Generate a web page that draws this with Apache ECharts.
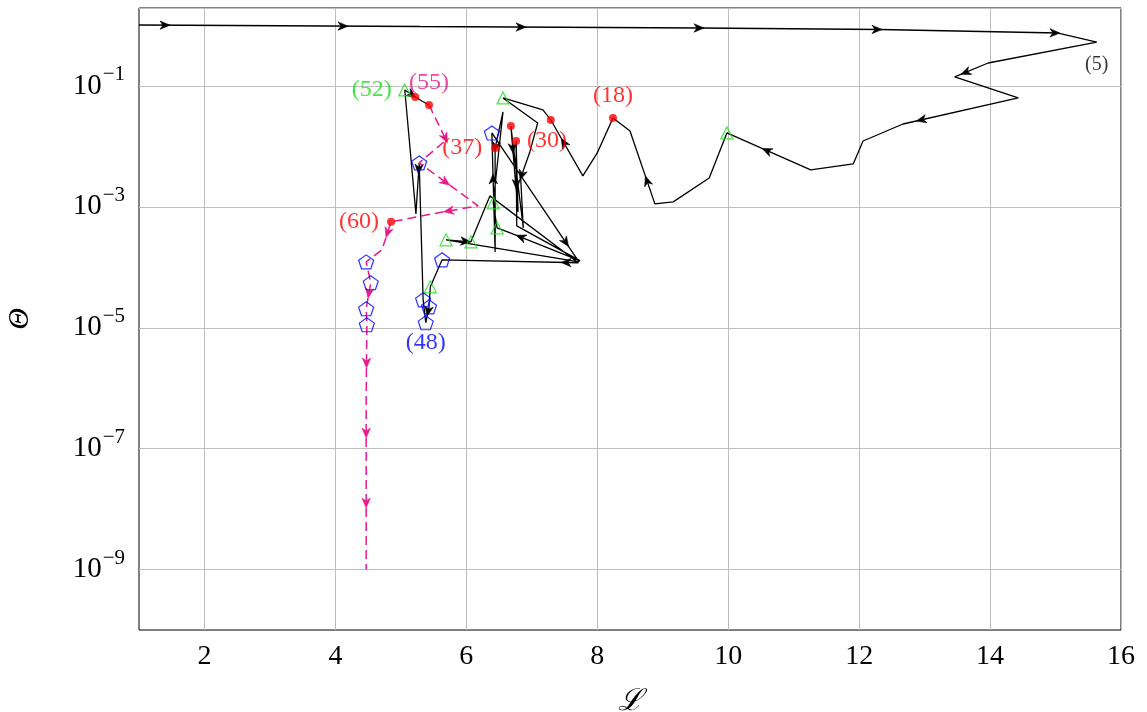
<!DOCTYPE html>
<html>
<head>
<meta charset="utf-8">
<script src="https://cdn.jsdelivr.net/npm/echarts@6/dist/echarts.min.js"></script>
<style>
  html, body { margin: 0; padding: 0; background: #fff; }
  #chart { width: 1147px; height: 712px; }
</style>
</head>
<body>
<div id="chart"></div>
<script>
// Iterates 0..55 of the solver path (solid black)
const L_main = [1.00, 5.29, 9.57, 12.32, 15.04, 15.63, 13.97, 13.46, 14.43, 12.67,
  12.06, 11.91, 11.26, 9.98, 9.71, 9.16, 8.88, 8.50, 8.24, 8.00,
  7.78, 7.29, 7.17, 6.56, 7.09, 6.97, 6.83, 6.87, 6.68, 6.79,
  6.76, 6.77, 7.74, 6.67, 6.47, 6.41, 6.56, 6.44, 6.44, 6.39,
  7.72, 5.69, 6.07, 6.36, 7.71, 5.63, 5.45, 5.43, 5.38, 5.34,
  5.28, 5.23, 5.06, 5.22, 5.32, 5.43];
const Theta_main = [1.02, 0.963, 0.910, 0.859, 0.752, 0.533, 0.240, 0.141, 0.0634, 0.0235,
  0.0123, 5.14e-3, 4.09e-3, 0.0167, 3.01e-3, 1.21e-3, 1.12e-3, 0.0180, 0.0296, 7.82e-3,
  3.25e-3, 0.0274, 0.0401, 0.0634, 0.0244, 8.11e-3, 3.01e-3, 4.50e-4, 0.0218, 8.26e-4,
  0.0123, 4.85e-4, 1.28e-4, 3.72e-4, 4.50e-4, 1.16e-3, 0.0372, 9.44e-3, 1.80e-4, 0.0167,
  1.23e-4, 2.85e-4, 2.64e-4, 1.52e-3, 1.19e-4, 1.33e-4, 4.76e-5, 2.22e-5, 1.21e-5, 2.90e-5,
  5.33e-3, 7.66e-4, 0.0859, 0.0658, 0.0565, 0.0485];

// Iterates 55..68 (final phase, dashed)
const TAIL_START = 55;
const L_tail = [5.43, 5.69, 5.28, 6.18, 5.48, 4.85, 4.71, 4.47, 4.54, 4.47, 4.48, 4.47, 4.47, 4.47];
const Theta_tail = [0.0485, 0.0128, 5.33e-3, 1.04e-3, 7.66e-4, 5.65e-4, 1.94e-4, 1.23e-4, 5.55e-5,
  2.06e-5, 1.12e-5, 6.46e-7, 3.08e-8, 1.0e-9];

// Iterates flagged by step type
const dotIters = [18, 21, 28, 30, 37, 53, 55, 60];
const triangleIters = [13, 23, 34, 35, 41, 42, 46, 52];
const pentagonIters = [39, 45, 47, 48, 49, 50, 62, 63, 64, 65];

// Annotated iterates
const labelIters = [5, 18, 30, 37, 48, 52, 55, 60];

// Axis ticks
const xTicks = [2, 4, 6, 8, 10, 12, 14, 16];
const yTickExps = [-9, -7, -5, -3, -1];

// ---------- styling ----------
const SERIF = "'Liberation Serif', 'DejaVu Serif', serif";
const RED = '#ff0000', GREEN = '#16e016', BLUE = '#0000ff', MAGENTA = '#e8198b';
const labelStyle = {
  5:  { pos: 'bottom', dist: 13, color: '#000', size: 20 },
  18: { pos: 'top',    dist: 10, color: RED,   size: 24 },
  30: { pos: 'right',  dist: 11, color: RED,   size: 24 },
  37: { pos: 'left',   dist: 13, color: RED,   size: 24 },
  48: { pos: 'bottom', dist: 8,  color: BLUE,  size: 24 },
  52: { pos: 'left',   dist: 13, color: GREEN, size: 24 },
  55: { pos: 'top',    dist: 10, color: MAGENTA, size: 24 },
  60: { pos: 'left',   dist: 12, color: RED,   size: 24 }
};

const lg = v => Math.log10(v);
function pointAt(n) {
  if (n >= TAIL_START) return [L_tail[n - TAIL_START], lg(Theta_tail[n - TAIL_START])];
  return [L_main[n], lg(Theta_main[n])];
}
const mainData = L_main.map((l, i) => [l, lg(Theta_main[i])]);
const tailData = L_tail.map((l, i) => [l, lg(Theta_tail[i])]);

// Arrowheads placed at regular arc-length spacing along a path (pixel space)
const HEAD = [[5, 0], [-5, -4.2], [-2, 0], [-5, 4.2]];
function arrowSeries(data, color, offset, step) {
  return {
    type: 'custom',
    coordinateSystem: 'cartesian2d',
    silent: true,
    z: 4,
    data: [data[0]],
    renderItem(params, api) {
      const pts = data.map(d => api.coord(d));
      const seg = [];
      let total = 0;
      for (let i = 1; i < pts.length; i++) {
        const d = Math.hypot(pts[i][0] - pts[i - 1][0], pts[i][1] - pts[i - 1][1]);
        seg.push(d);
        total += d;
      }
      const children = [];
      let k = 0, acc = 0;
      for (let s = offset; s < total; s += step) {
        while (k < seg.length - 1 && acc + seg[k] < s) { acc += seg[k]; k++; }
        if (seg[k] === 0) continue;
        const t = (s - acc) / seg[k];
        const a = pts[k], b = pts[k + 1];
        const x = a[0] + (b[0] - a[0]) * t, y = a[1] + (b[1] - a[1]) * t;
        const ang = Math.atan2(b[1] - a[1], b[0] - a[0]);
        const c = Math.cos(ang), sn = Math.sin(ang);
        children.push({
          type: 'polygon',
          shape: { points: HEAD.map(p => [x + p[0] * c - p[1] * sn, y + p[0] * sn + p[1] * c]) },
          style: { fill: color, stroke: color, lineWidth: 0.6 }
        });
      }
      return { type: 'group', children };
    }
  };
}

const PENTAGON = 'path://M0,-1L0.951,-0.309L0.588,0.809L-0.588,0.809L-0.951,-0.309Z';

function markerSeries(iters, symbol, size, fill, stroke) {
  return {
    type: 'scatter',
    silent: true,
    z: 5,
    symbol,
    symbolSize: size,
    itemStyle: { color: fill, borderColor: stroke, borderWidth: fill === 'transparent' ? 1.2 : 0 },
    data: iters.map(pointAt)
  };
}

const labelSeries = {
  type: 'scatter',
  silent: true,
  z: 6,
  symbolSize: 0,
  data: labelIters.map(n => {
    const st = labelStyle[n];
    return {
      value: pointAt(n),
      label: {
        show: true,
        position: st.pos,
        distance: st.dist,
        formatter: '(' + n + ')',
        color: st.color,
        fontFamily: SERIF,
        fontSize: st.size
      }
    };
  })
};

const chart = echarts.init(document.getElementById('chart'), null, { renderer: 'canvas' });
chart.setOption({
  animation: false,
  backgroundColor: '#fff',
  grid: {
    left: 139, top: 8, right: 26, bottom: 82,
    containLabel: false,
    outerBoundsMode: 'none',
    show: true, borderColor: '#000', borderWidth: 1, backgroundColor: 'transparent'
  },
  xAxis: {
    type: 'value',
    min: 1, max: 16, interval: 1,
    name: 'ℒ',
    nameLocation: 'middle',
    nameGap: 57,
    nameTextStyle: { fontFamily: SERIF, fontSize: 30, fontStyle: 'italic', color: '#000' },
    axisLine: { show: false },
    axisTick: { show: false },
    axisLabel: {
      margin: 13,
      color: '#000',
      fontFamily: SERIF,
      fontSize: 28,
      formatter: v => (xTicks.indexOf(Math.round(v)) >= 0 && Math.abs(v - Math.round(v)) < 1e-9) ? String(Math.round(v)) : ''
    },
    splitLine: { show: true, lineStyle: { color: ['transparent', '#bdbdbd'], width: 1 } }
  },
  yAxis: {
    type: 'value',
    min: -10, max: 0.29, interval: 1,
    name: 'Θ',
    nameLocation: 'middle',
    nameRotate: 90,
    nameGap: 104,
    nameTextStyle: { fontFamily: SERIF, fontSize: 30, fontStyle: 'italic', color: '#000' },
    axisLine: { show: false },
    axisTick: { show: false },
    axisLabel: {
      margin: 14,
      color: '#000',
      formatter: v => {
        const r = Math.round(v);
        if (Math.abs(v - r) > 1e-9 || yTickExps.indexOf(r) < 0) return '';
        return '{b|10}{s|−' + (-r) + '}';
      },
      rich: {
        b: { fontFamily: SERIF, fontSize: 29, color: '#000' },
        s: { fontFamily: SERIF, fontSize: 21, color: '#000', padding: [0, 0, 22, 1] }
      }
    },
    splitLine: { show: true, lineStyle: { color: ['transparent', '#bdbdbd'], width: 1 } }
  },
  series: [
    {
      type: 'line', data: mainData, silent: true, z: 3,
      showSymbol: false, symbol: 'none',
      lineStyle: { color: '#000', width: 1.3 }
    },
    {
      type: 'line', data: tailData, silent: true, z: 3,
      showSymbol: false, symbol: 'none',
      lineStyle: { color: MAGENTA, width: 1.5, type: [9, 5] }
    },
    arrowSeries(mainData, '#000', 26, 178),
    arrowSeries(tailData, MAGENTA, 37, 70),
    markerSeries(dotIters, 'circle', 8, RED, RED),
    markerSeries(triangleIters, 'triangle', 12, 'transparent', GREEN),
    markerSeries(pentagonIters, PENTAGON, [15, 14], 'transparent', BLUE),
    labelSeries
  ]
});
</script>
</body>
</html>
